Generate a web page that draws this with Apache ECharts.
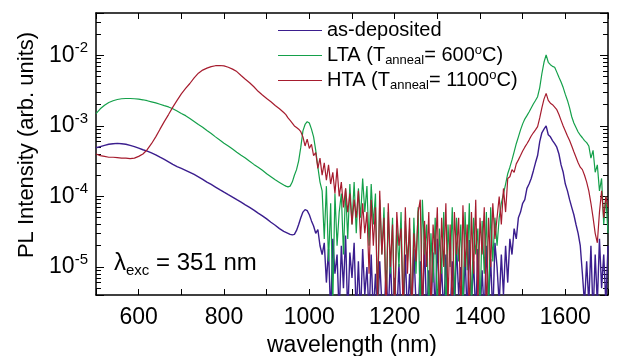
<!DOCTYPE html>
<html><head><meta charset="utf-8">
<script src="https://cdn.jsdelivr.net/npm/echarts@6/dist/echarts.min.js"></script>
<style>html,body{margin:0;padding:0;background:#fff}#c{width:622px;height:356px}</style>
</head><body><div id="c"></div>
<script>
// wavelength grid (nm)
const wavelength = [500,510,520,530,540,550,560,570,580,590,
600,610,620,630,640,650,660,670,680,690,
700,710,720,730,740,750,760,770,780,790,
800,810,820,830,840,850,860,870,880,890,
900,910,920,930,940,
945,950,955,960,965,970,975,980,985,990,
995,1000,1005,1010,1015,1020,1025,1030,1035,1040,
1045,1050,1055,1060,1065,1070,1075,1080,1085,1090,
1095,1100,1105,1110,1115,1120,1125,1130,1135,1140,
1145,1150,1155,1160,1165,1170,1175,1180,1185,1190,
1195,1200,1205,1210,1215,1220,1225,1230,1235,1240,
1245,1250,1255,1260,1265,1270,1275,1280,1285,1290,
1295,1300,1305,1310,1315,1320,1325,1330,1335,1340,
1345,1350,1355,1360,1365,1370,1375,1380,1385,1390,
1395,1400,1405,1410,1415,1420,1425,1430,1435,1440,
1445,1450,1455,1460,1465,1470,1475,1480,1485,1490,
1495,1500,1505,1510,1515,1520,1525,1530,1535,1540,
1545,1550,1555,1560,1565,1570,1575,1580,1585,1590,
1595,1600,1605,1610,1615,1620,1625,1630,1635,1640,
1645,1650,1655,1660,1665,1670,1675,1680,1685,1690,
1695,1700];

// as-deposited
const asDeposited = [4.9e-4,5.1e-4,5.3e-4,5.5e-4,5.6e-4,5.65e-4,5.6e-4,5.5e-4,5.3e-4,5.1e-4,
4.85e-4,4.6e-4,4.4e-4,4.15e-4,3.9e-4,3.6e-4,3.35e-4,3.1e-4,2.85e-4,2.65e-4,
2.5e-4,2.35e-4,2.2e-4,2.05e-4,1.9e-4,1.75e-4,1.6e-4,1.48e-4,1.36e-4,1.25e-4,
1.15e-4,1.06e-4,9.8e-5,9e-5,8.3e-5,7.6e-5,7e-5,6.4e-5,5.8e-5,5.3e-5,
4.8e-5,4.3e-5,3.9e-5,3.5e-5,3.2e-5,
3.1e-5,3e-5,2.9e-5,2.85e-5,2.9e-5,3.3e-5,4e-5,5e-5,6e-5,6.5e-5,
6.3e-5,5.5e-5,4.5e-5,3.8e-5,3e-5,3.4e-5,2e-5,1.5e-5,2.2e-5,6e-6,
1.8e-5,2e-6,2.5e-5,8e-6,1.5e-5,2e-6,2e-5,5e-6,2.8e-5,2e-6,
1.6e-5,7e-6,2.2e-5,2e-6,1.2e-5,2e-6,1.8e-5,4e-6,1e-5,2e-6,
1.5e-5,2e-6,8e-6,2e-6,1.2e-5,3e-6,2e-6,9e-6,2e-6,1.4e-5,
2e-6,7e-6,2e-6,1.1e-5,2e-6,2e-6,1.5e-5,2e-6,8e-6,2e-6,
1.8e-5,3e-6,2e-6,1.2e-5,2e-6,2.2e-5,2e-6,9e-6,2e-6,1.6e-5,
2e-6,2.5e-5,3e-6,1e-5,2e-6,1.5e-5,2e-6,2e-6,1.2e-5,2e-6,
2e-5,4e-6,1e-5,2e-6,1.5e-5,2e-6,2.4e-5,3e-6,1.2e-5,2e-6,
1.8e-5,2e-6,9e-6,2e-6,2e-5,3e-6,1.3e-5,2e-6,2.2e-5,1e-5,
3e-6,1.5e-5,4e-6,2e-5,6e-6,2.5e-5,1.5e-5,3.5e-5,2.5e-5,5e-5,
6e-5,8e-5,9e-5,1.3e-4,1.5e-4,1.8e-4,2.3e-4,3e-4,3.8e-4,6e-4,
8e-4,9e-4,1e-3,7.5e-4,7e-4,6.2e-4,5.6e-4,5e-4,4e-4,2.8e-4,
2.2e-4,1.5e-4,1.2e-4,9e-5,7e-5,5.5e-5,4e-5,3e-5,2e-5,8e-6,
3e-6,1.2e-5,3e-6,2e-5,2e-6,1.5e-5,3e-6,2.5e-5,5e-6,1.5e-5,
3e-6,2e-5];

// LTA (600 C)
const lta = [1.5e-3,1.75e-3,1.97e-3,2.15e-3,2.28e-3,2.37e-3,2.43e-3,2.45e-3,2.45e-3,2.43e-3,
2.4e-3,2.35e-3,2.28e-3,2.2e-3,2.12e-3,2.03e-3,1.94e-3,1.86e-3,1.75e-3,1.63e-3,
1.5e-3,1.4e-3,1.28e-3,1.16e-3,1.05e-3,9.6e-4,8.6e-4,7.8e-4,7.0e-4,6.3e-4,
5.7e-4,5.2e-4,4.7e-4,4.25e-4,3.85e-4,3.5e-4,3.15e-4,2.85e-4,2.6e-4,2.35e-4,
2.1e-4,1.9e-4,1.72e-4,1.58e-4,1.45e-4,
1.4e-4,1.37e-4,1.4e-4,1.6e-4,2.0e-4,2.4e-4,3.2e-4,5e-4,8.5e-4,1.05e-3,
1.15e-3,1.1e-3,9e-4,7e-4,4.5e-4,2.6e-4,1.6e-4,1.2e-4,2.5e-5,1.4e-4,
1.2e-5,8e-5,3e-6,1.1e-4,2e-5,6e-5,1.1e-4,1.5e-5,1.3e-4,2.5e-5,
1.5e-4,4e-5,1.6e-4,3e-5,1.3e-4,5e-5,1.8e-4,6e-5,1.4e-4,2e-5,
1.5e-4,4e-5,1.1e-4,3e-6,9e-5,1.5e-5,7e-5,3e-6,6e-5,8e-6,
5e-5,2e-6,4e-5,1e-5,6e-5,2e-6,4.5e-5,1.2e-5,3.5e-5,2e-6,
5e-5,8e-6,7e-5,2e-6,9e-5,1.5e-5,4e-5,2e-6,3e-5,6e-6,
5e-5,2e-6,3.5e-5,8e-6,6e-5,2e-6,4e-5,1e-5,7e-5,3e-6,
5e-5,1.2e-5,4e-5,2e-6,6e-5,9e-6,8e-5,2e-6,5e-5,1.5e-5,
3.5e-5,2e-6,4.5e-5,8e-6,6e-5,2e-6,7e-5,1.2e-5,5e-5,2e-5,
5e-5,8e-5,1.1e-4,1.5e-4,2.1e-4,2.6e-4,3.3e-4,4.3e-4,5.6e-4,7e-4,
8.8e-4,1.07e-3,1.25e-3,1.4e-3,1.58e-3,1.8e-3,2.05e-3,2.3e-3,2.6e-3,3.5e-3,
5.5e-3,8e-3,1.02e-2,8e-3,7.4e-3,7e-3,6.8e-3,5.8e-3,4.9e-3,4.2e-3,
3.5e-3,2.8e-3,2.3e-3,1.8e-3,1.35e-3,1.1e-3,9.5e-4,8.2e-4,7.4e-4,6.8e-4,
6.2e-4,5.8e-4,5.2e-4,3.5e-4,4.5e-4,2.2e-4,2.8e-4,1.2e-4,1.8e-4,4e-5,
1e-4,3e-5];

// HTA (1100 C)
const hta = [4.0e-4,3.8e-4,3.7e-4,3.6e-4,3.6e-4,3.55e-4,3.5e-4,3.5e-4,3.45e-4,3.5e-4,
3.7e-4,4.0e-4,4.6e-4,5.6e-4,7.0e-4,9.0e-4,1.15e-3,1.45e-3,1.85e-3,2.3e-3,
2.85e-3,3.4e-3,4.0e-3,4.8e-3,5.6e-3,6.2e-3,6.6e-3,6.95e-3,7.15e-3,7.2e-3,
7.1e-3,6.8e-3,6.4e-3,5.9e-3,5.2e-3,4.6e-3,4.1e-3,3.6e-3,3.1e-3,2.75e-3,
2.45e-3,2.2e-3,1.95e-3,1.75e-3,1.55e-3,
1.45e-3,1.3e-3,1.2e-3,1.1e-3,1.0e-3,9.5e-4,9e-4,8.3e-4,7e-4,5.2e-4,
6.5e-4,4.8e-4,5.5e-4,3.8e-4,4.2e-4,2.5e-4,3.5e-4,2e-4,3e-4,1.7e-4,
2.8e-4,1.5e-4,2.2e-4,1.1e-4,2.5e-4,1e-4,1.6e-4,7e-5,1.3e-4,6e-5,
1.1e-4,4e-5,9e-5,5e-5,1.2e-4,2.5e-5,8e-5,3e-5,6e-5,8e-6,
9e-5,2e-5,7e-5,3e-6,1.2e-4,1.5e-5,5e-5,2e-6,8e-5,1e-5,
4e-5,2e-6,6e-5,2e-5,3.5e-5,2e-6,7e-5,8e-6,5e-5,2e-6,
3e-5,1.2e-5,6e-5,9e-5,2e-6,4.5e-5,1e-5,6e-5,2e-6,4e-5,
1.5e-5,7e-5,2e-6,5e-5,1e-5,8e-5,3e-6,4e-5,2e-6,6e-5,
1.5e-5,5e-5,2e-6,7.5e-5,1e-5,4e-5,2e-6,6e-5,8e-6,9e-5,
3e-6,5e-5,1.5e-5,7e-5,2e-6,5e-5,1e-5,8e-5,2.5e-5,5e-5,
1e-4,4e-5,1.3e-4,6e-5,1.8e-4,1.9e-4,2.4e-4,2.2e-4,2.9e-4,3.3e-4,
3.8e-4,4.4e-4,5e-4,5.6e-4,6.3e-4,7.2e-4,8e-4,8.8e-4,9.8e-4,1.3e-3,
1.8e-3,2.4e-3,2.9e-3,2.3e-3,2.1e-3,2.0e-3,1.85e-3,1.7e-3,1.45e-3,1.2e-3,
1.0e-3,8.5e-4,7.2e-4,6.2e-4,5.2e-4,4.3e-4,3.6e-4,3e-4,2.6e-4,2.4e-4,
2e-4,1.6e-4,1.2e-4,8e-5,5e-5,3e-5,2.2e-5,6e-5,1.2e-4,5e-5,
1e-4,7e-5];

const seriesNames = ['as-deposited', 'LTA', 'HTA'];
const seriesColors = ['#3b1e8e', '#14a04a', '#a61c2e'];
const legendLabels = {
  'as-deposited': 'as-deposited',
  'LTA': 'LTA (T{sub|anneal}= 600{sup|o}C)',
  'HTA': 'HTA (T{sub|anneal}= 1100{sup|o}C)'
};
const xMin = 500, xMax = 1700, xStep = 100;
const yMin = 4e-6, yMax = 4e-2;

const FONT = '"Liberation Sans", Arial, sans-serif';
const chart = echarts.init(document.getElementById('c'), null, {renderer: 'canvas'});

const dataSets = [asDeposited, lta, hta];
const lineSeries = dataSets.map((arr, k) => ({
  name: seriesNames[k],
  type: 'line',
  xAxisIndex: 0,
  yAxisIndex: 0,
  data: wavelength.map((w, i) => [w, arr[i]]),
  showSymbol: false,
  symbol: 'none',
  clip: true,
  lineStyle: {color: seriesColors[k], width: k === 0 ? 1.4 : 1.2},
  itemStyle: {color: seriesColors[k]},
  emphasis: {disabled: true},
  animation: false,
  z: 2 + k
}));

const axisLineStyle = {show: true, lineStyle: {color: '#000', width: 1.5}};
const yMinorTick = {show: true, splitNumber: 9, length: 5, lineStyle: {color: '#000', width: 1}};

chart.setOption({
  animation: false,
  backgroundColor: '#fff',
  textStyle: {fontFamily: FONT},
  grid: {left: 96, right: 14, top: 13, bottom: 61, containLabel: false, outerBoundsMode: 'none'},
  legend: {
    data: seriesNames,
    orient: 'vertical',
    left: 278,
    top: 19,
    padding: 0,
    itemWidth: 44,
    itemHeight: 12,
    itemGap: 2,
    selectedMode: false,
    icon: 'path://M0,6 L44,6 L44,7 L0,7 Z',
    formatter: name => legendLabels[name],
    textStyle: {
      fontFamily: FONT, fontSize: 20, color: '#000', lineHeight: 23,
      rich: {
        sub: {fontSize: 13, fontFamily: FONT, color: '#000', verticalAlign: 'bottom', lineHeight: 13},
        sup: {fontSize: 13, fontFamily: FONT, color: '#000', verticalAlign: 'top', lineHeight: 13}
      }
    }
  },
  xAxis: [{
    type: 'value', min: xMin, max: xMax, interval: xStep, position: 'bottom',
    name: 'wavelength (nm)', nameLocation: 'middle', nameGap: 39,
    nameTextStyle: {fontFamily: FONT, fontSize: 23, color: '#000'},
    axisLine: axisLineStyle,
    axisTick: {show: true, inside: true, length: 6, lineStyle: {color: '#000', width: 1}},
    axisLabel: {
      show: true, margin: 11, fontFamily: FONT, fontSize: 23, color: '#000',
      formatter: v => (v % 200 === 0 ? String(v) : '')
    },
    splitLine: {show: false}
  }, {
    type: 'value', min: xMin, max: xMax, interval: xStep, position: 'top',
    axisLine: axisLineStyle,
    axisTick: {show: true, inside: true, length: 6, lineStyle: {color: '#000', width: 1}},
    axisLabel: {show: false},
    splitLine: {show: false}
  }],
  yAxis: [{
    type: 'log', logBase: 10, min: yMin, max: yMax, position: 'left',
    name: 'PL Intensity (arb. units)', nameLocation: 'middle', nameGap: 57,
    nameTextStyle: {fontFamily: FONT, fontSize: 22, color: '#000', padding: [0, 0, 0, 18]},
    axisLine: axisLineStyle,
    axisTick: {show: true, inside: true, length: 8, lineStyle: {color: '#000', width: 1}},
    minorTick: yMinorTick,
    axisLabel: {
      show: true, margin: 8, showMinLabel: false, showMaxLabel: false,
      formatter: v => '{b|10}{s|' + Math.round(Math.log10(v)) + '}',
      rich: {
        b: {fontFamily: FONT, fontSize: 23, color: '#000', lineHeight: 30},
        s: {fontFamily: FONT, fontSize: 15, color: '#000', verticalAlign: 'top', lineHeight: 15}
      }
    },
    splitLine: {show: false}
  }, {
    type: 'log', logBase: 10, min: yMin, max: yMax, position: 'right',
    axisLine: axisLineStyle,
    axisTick: {show: true, inside: true, length: 8, lineStyle: {color: '#000', width: 1}},
    minorTick: yMinorTick,
    axisLabel: {show: false},
    splitLine: {show: false}
  }],
  graphic: [{
    type: 'text', id: 'lambda', left: 114, top: 251, z: 20,
    style: {
      text: '{l|λ}{sub|exc}{t| = 351 nm}',
      rich: {
        l: {fontFamily: FONT, fontSize: 24, fill: '#000', lineHeight: 30},
        sub: {fontFamily: FONT, fontSize: 15, fill: '#000', verticalAlign: 'bottom', lineHeight: 15},
        t: {fontFamily: FONT, fontSize: 24, fill: '#000', lineHeight: 30}
      }
    }
  }],
  series: lineSeries
});
</script></body></html>
